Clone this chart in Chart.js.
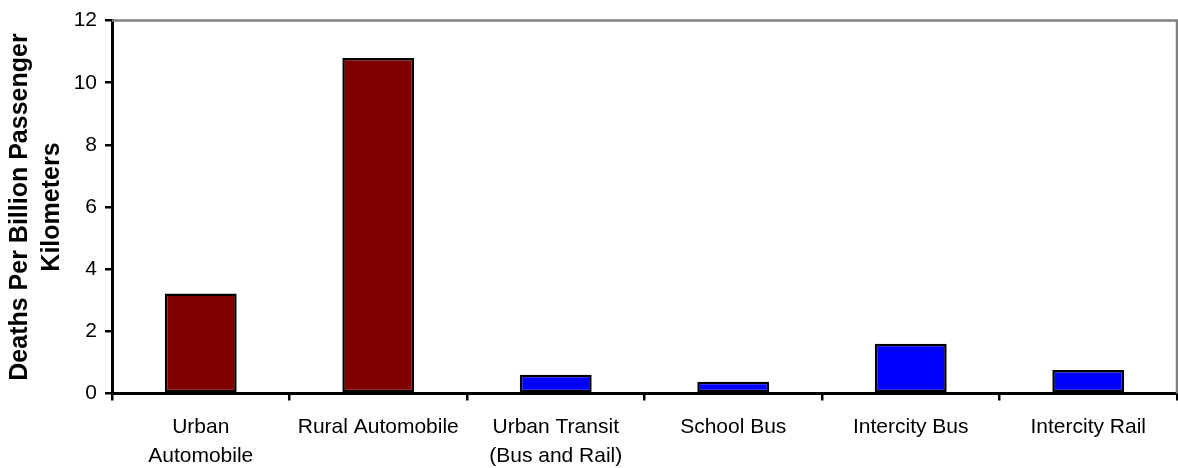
<!DOCTYPE html>
<html>
<head>
<meta charset="utf-8">
<script src="https://cdn.jsdelivr.net/npm/chart.js@4/dist/chart.umd.min.js"></script>
<style>
  body { margin: 0; background: #fff; }
  #wrap { width: 1178px; height: 468px; position: relative; }
</style>
</head>
<body>
<div id="wrap"><canvas id="fatalityChart"></canvas></div>
<script>
// Fatality rates by travel mode
const modes = [
    ['Urban', 'Automobile'],
    'Rural Automobile',
    ['Urban Transit', '(Bus and Rail)'],
    'School Bus',
    'Intercity Bus',
    'Intercity Rail'
];
const deathsPerBillionKm = [3.22, 10.8, 0.6, 0.38, 1.6, 0.76];
const yTicks = [0, 2, 4, 6, 8, 10, 12];
const yTitle = ['Deaths Per Billion Passenger', 'Kilometers'];

// private cars in maroon, public transport in blue
const barColors = ['#800000', '#800000', '#0000ff', '#0000ff', '#0000ff', '#0000ff'];

const FONT = "'Liberation Sans', Arial, sans-serif";

// grey frame on top and right of the plot area
const plotFrame = {
    id: 'plotFrame',
    afterDraw(chart) {
        const { ctx, chartArea: a } = chart;
        ctx.save();
        ctx.strokeStyle = '#808080';
        ctx.lineWidth = 2.5;
        ctx.beginPath();
        ctx.moveTo(a.left, a.top);
        ctx.lineTo(a.right, a.top);
        ctx.lineTo(a.right, a.bottom);
        ctx.stroke();
        ctx.restore();
    }
};

const ctx = document.getElementById('fatalityChart');
new Chart(ctx, {
    type: 'bar',
    data: {
        labels: modes,
        datasets: [{
            data: deathsPerBillionKm,
            backgroundColor: barColors,
            borderColor: '#000',
            borderWidth: 2.5,
            borderSkipped: false,
            barPercentage: 0.405,
            categoryPercentage: 1
        }]
    },
    options: {
        responsive: true,
        maintainAspectRatio: false,
        animation: false,
        layout: { padding: { top: 18, right: 1, left: 0, bottom: 0 } },
        plugins: { legend: { display: false }, tooltip: { enabled: false } },
        scales: {
            x: {
                offset: true,
                afterFit: s => { s.height = 74.5; },
                border: { color: '#000', width: 3 },
                grid: { offset: true, drawOnChartArea: false, color: '#000', lineWidth: 2.5, tickLength: 7 },
                ticks: {
                    color: '#000',
                    padding: 12,
                    maxRotation: 0,
                    autoSkip: false,
                    font: { family: FONT, size: 21, lineHeight: 1.38 }
                }
            },
            y: {
                min: 0,
                max: 12,
                afterFit: s => { s.width = 112; },
                afterBuildTicks: s => { s.ticks = yTicks.map(v => ({ value: v })); },
                border: { color: '#000', width: 3 },
                grid: { drawOnChartArea: false, color: '#000', lineWidth: 2.5, tickLength: 7 },
                ticks: {
                    color: '#000',
                    padding: 8,
                    font: { family: FONT, size: 21 }
                },
                title: {
                    display: true,
                    text: yTitle,
                    color: '#000',
                    padding: { top: 4, bottom: 0 },
                    font: { family: FONT, size: 25, weight: 'bold', lineHeight: 1.28 }
                }
            }
        }
    },
    plugins: [plotFrame]
});
</script>
</body>
</html>
